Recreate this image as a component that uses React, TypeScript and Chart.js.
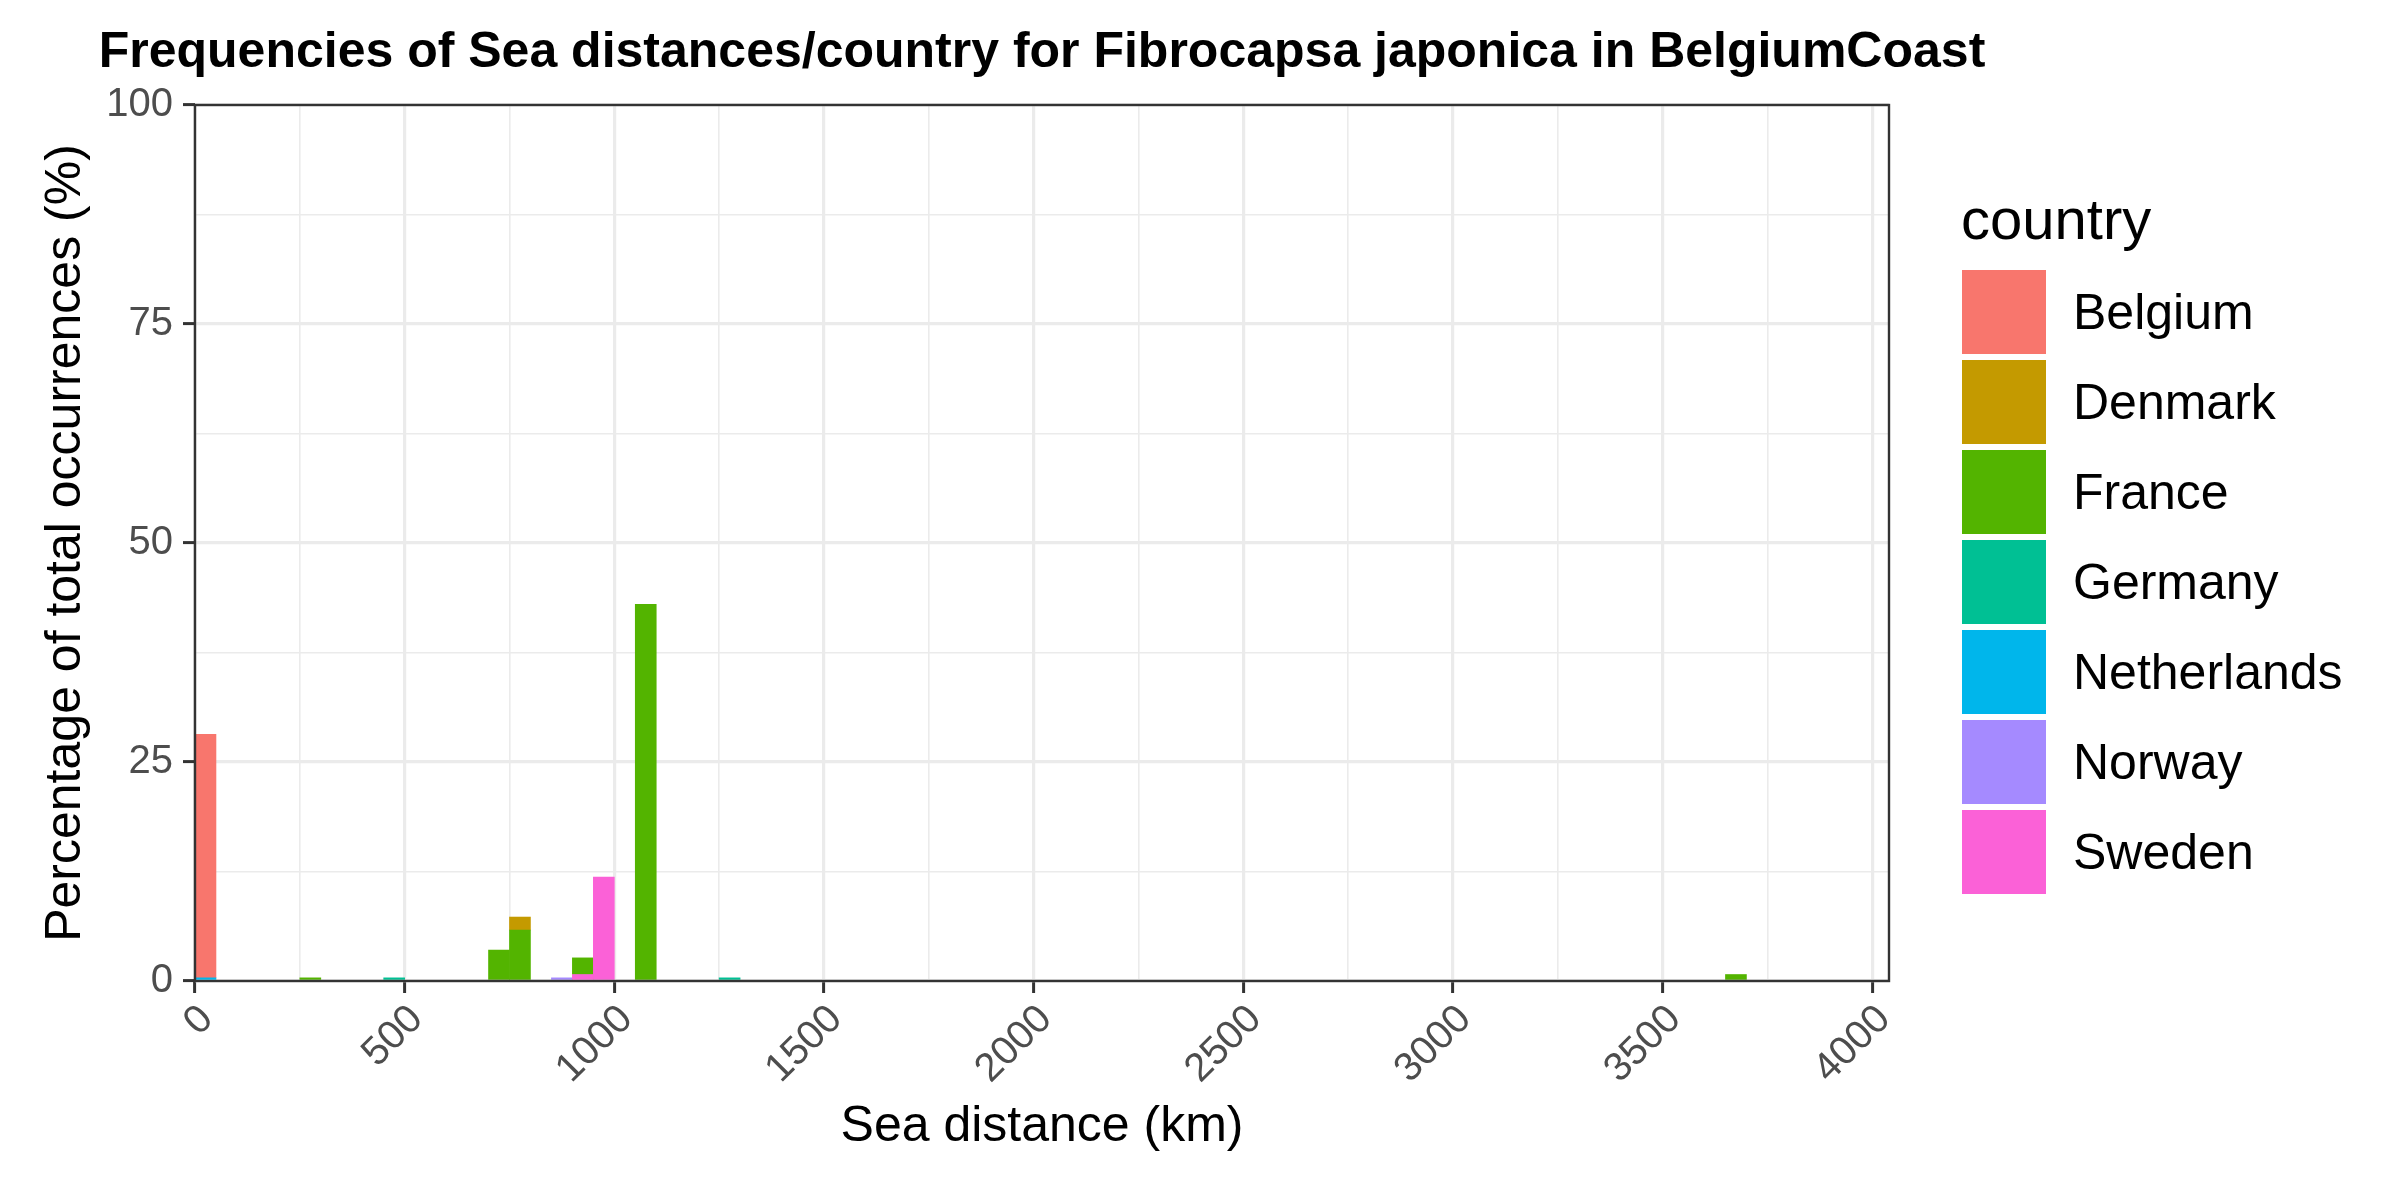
import React, { useEffect, useRef } from 'react';
import { Chart, registerables } from 'chart.js';

Chart.register(...registerables);

const FONT = "'Liberation Sans', Arial, Helvetica, sans-serif";

// ---- data (percent of total occurrences per 50 km sea-distance bin) ----
const countries = ['Belgium', 'Denmark', 'France', 'Germany', 'Netherlands', 'Norway', 'Sweden'];
const countryColors = ['#F8766D', '#C49A00', '#53B400', '#00C094', '#00B6EB', '#A58AFF', '#FB61D7'];
const binWidthKm = 50;

// bin start (km) and percentage for each country
const belgiumBins = [0];
const belgiumPct = [27.8];
const denmarkBins = [750];
const denmarkPct = [1.48];
const franceBins = [250, 700, 750, 900, 1050, 3650];
const francePct = [0.36, 3.53, 5.82, 1.9, 43.0, 0.74];
const germanyBins = [450, 1250];
const germanyPct = [0.36, 0.36];
const netherlandsBins = [0];
const netherlandsPct = [0.36];
const norwayBins = [850];
const norwayPct = [0.36];
const swedenBins = [900, 950];
const swedenPct = [0.74, 11.86];

const binsByCountry = [belgiumBins, denmarkBins, franceBins, germanyBins, netherlandsBins, norwayBins, swedenBins];
const pctByCountry = [belgiumPct, denmarkPct, francePct, germanyPct, netherlandsPct, norwayPct, swedenPct];

// ---- axes ----
const xMin = 0;
const xMax = 4040;
const xMajorTicks = [0, 500, 1000, 1500, 2000, 2500, 3000, 3500, 4000];
const xMinorTicks = [250, 750, 1250, 1750, 2250, 2750, 3250, 3750];
const yMin = 0;
const yMax = 100;
const yMajorTicks = [0, 25, 50, 75, 100];
const yMinorTicks = [12.5, 37.5, 62.5, 87.5];

const titleText = 'Frequencies of Sea distances/country for Fibrocapsa japonica in BelgiumCoast';
const xTitle = 'Sea distance (km)';
const yTitle = 'Percentage of total occurrences (%)';
const legendTitle = 'country';

const GRID = '#EBEBEB';
const DARK = '#333333';
const TICK_TEXT = '#4D4D4D';

const panelBorder = {
  id: 'panelBorder',
  afterDatasetsDraw(chart: any) {
    const { ctx, chartArea } = chart;
    ctx.save();
    ctx.strokeStyle = DARK;
    ctx.lineWidth = 2.4;
    ctx.strokeRect(chartArea.left, chartArea.top, chartArea.right - chartArea.left, chartArea.bottom - chartArea.top);
    ctx.restore();
  },
};

const plotTitle = {
  id: 'plotTitle',
  afterDraw(chart: any) {
    const { ctx, chartArea } = chart;
    ctx.save();
    ctx.fillStyle = '#000000';
    ctx.font = `bold 50px ${FONT}`;
    ctx.textAlign = 'center';
    ctx.textBaseline = 'middle';
    ctx.fillText(titleText, (chartArea.left + chartArea.right) / 2, chartArea.top - 52);
    ctx.restore();
  },
};

const ggLegend = {
  id: 'ggLegend',
  afterDraw(chart: any) {
    const { ctx, chartArea } = chart;
    const x0 = chartArea.right + 73;
    const top0 = chartArea.top;
    ctx.save();
    ctx.fillStyle = '#000000';
    ctx.font = `58px ${FONT}`;
    ctx.textAlign = 'left';
    ctx.textBaseline = 'alphabetic';
    ctx.fillText(legendTitle, x0 - 1, top0 + 134);
    chart.data.datasets.forEach((ds: any, i: number) => {
      const top = top0 + 165 + i * 90;
      ctx.fillStyle = ds.backgroundColor;
      ctx.fillRect(x0, top, 84, 84);
      ctx.fillStyle = '#000000';
      ctx.font = `50px ${FONT}`;
      ctx.textBaseline = 'middle';
      ctx.fillText(ds.label, x0 + 111, top + 45);
    });
    ctx.restore();
  },
};

export default function App() {
  const canvasRef = useRef<HTMLCanvasElement | null>(null);

  useEffect(() => {
    document.body.style.margin = '0';
    const canvas = canvasRef.current;
    if (!canvas) return;

    const datasets = countries.map((name, i) => ({
      label: name,
      data: binsByCountry[i].map((b, j) => ({ x: b + binWidthKm / 2, y: pctByCountry[i][j] })),
      backgroundColor: countryColors[i],
      borderWidth: 0,
      barPercentage: 1,
      categoryPercentage: 1,
      order: countries.length - i,
    }));

    const isMajorX = (v: number) => xMajorTicks.includes(v);
    const isMajorY = (v: number) => yMajorTicks.includes(v);

    const chart = new Chart(canvas, {
      type: 'bar',
      data: { datasets },
      plugins: [panelBorder, plotTitle, ggLegend],
      options: {
        responsive: false,
        animation: false,
        events: [],
        layout: { padding: { left: 0, right: 511, top: 105, bottom: 0 } },
        plugins: {
          legend: { display: false },
          tooltip: { enabled: false },
          title: { display: false },
        },
        scales: {
          x: {
            type: 'linear',
            min: xMin,
            max: xMax,
            stacked: true,
            offset: false,
            afterBuildTicks: (scale: any) => {
              scale.ticks = [...xMajorTicks, ...xMinorTicks].sort((a, b) => a - b).map((v) => ({ value: v }));
            },
            afterFit: (scale: any) => {
              scale.height = 219;
            },
            border: { display: false },
            grid: {
              offset: false,
              color: (c: any) => GRID,
              lineWidth: (c: any) => (c.tick && isMajorX(c.tick.value) ? 3.2 : 1.6),
              tickColor: (c: any) => (c.tick && isMajorX(c.tick.value) ? DARK : 'rgba(0,0,0,0)'),
              tickWidth: 3,
              tickLength: 12,
              drawTicks: true,
            },
            ticks: {
              autoSkip: false,
              includeBounds: false,
              minRotation: 45,
              maxRotation: 45,
              padding: 3,
              labelOffset: 12,
              color: TICK_TEXT,
              font: { family: FONT, size: 40 },
              callback: (v: any) => (isMajorX(Number(v)) ? String(v) : ''),
            },
            title: {
              display: true,
              text: xTitle,
              color: '#000000',
              font: { family: FONT, size: 50 },
              padding: { top: 0, bottom: 43 },
            },
          },
          y: {
            type: 'linear',
            min: yMin,
            max: yMax,
            stacked: true,
            afterBuildTicks: (scale: any) => {
              scale.ticks = [...yMajorTicks, ...yMinorTicks].sort((a, b) => a - b).map((v) => ({ value: v }));
            },
            afterFit: (scale: any) => {
              scale.width = 195;
            },
            border: { display: false },
            grid: {
              color: (c: any) => GRID,
              lineWidth: (c: any) => (c.tick && isMajorY(c.tick.value) ? 3.2 : 1.6),
              tickColor: (c: any) => (c.tick && isMajorY(c.tick.value) ? DARK : 'rgba(0,0,0,0)'),
              tickWidth: 3,
              tickLength: 12,
              drawTicks: true,
            },
            ticks: {
              autoSkip: false,
              includeBounds: false,
              padding: 10,
              color: TICK_TEXT,
              font: { family: FONT, size: 40 },
              callback: (v: any) => (isMajorY(Number(v)) ? String(v) : ''),
            },
            title: {
              display: true,
              text: yTitle,
              color: '#000000',
              font: { family: FONT, size: 50 },
              padding: { top: 36, bottom: 0 },
            },
          },
        },
      } as any,
    });

    return () => {
      chart.destroy();
    };
  }, []);

  return (
    <div style={{ width: 2400, height: 1200, background: '#ffffff' }}>
      <canvas ref={canvasRef} width={2400} height={1200} style={{ display: 'block', width: 2400, height: 1200 }} />
    </div>
  );
}
